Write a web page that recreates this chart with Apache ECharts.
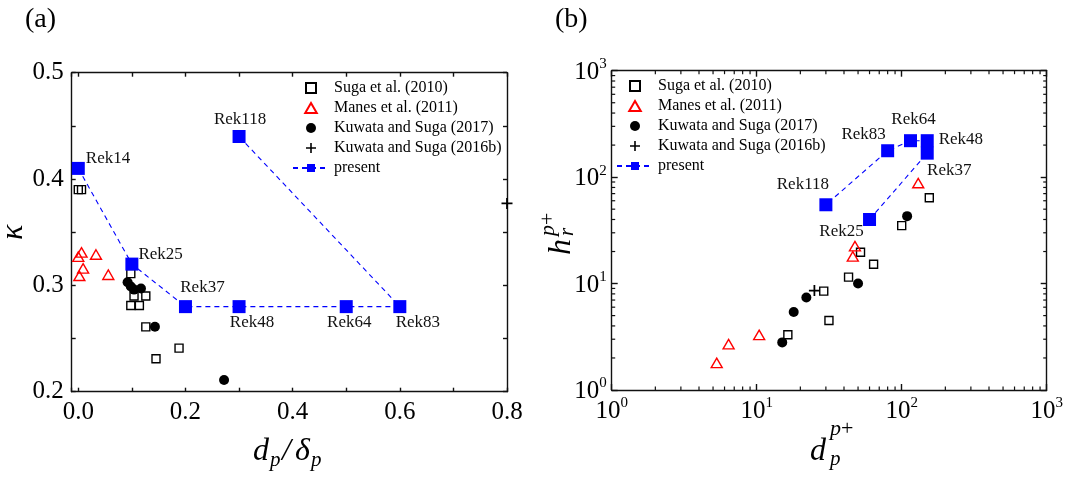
<!DOCTYPE html>
<html><head><meta charset="utf-8">
<script src="https://cdn.jsdelivr.net/npm/echarts@6/dist/echarts.min.js"></script>
<style>html,body{margin:0;padding:0;background:#fff}#c{width:1070px;height:478px}</style>
</head><body><div id="c"></div>
<script>
// ---------- Panel (a): kappa vs d_p/delta_p ----------
const sugaRatioA  = [0.0, 0.006, 0.098, 0.104, 0.126, 0.098, 0.114, 0.126, 0.145, 0.188];
const sugaKappaA  = [0.39, 0.39, 0.311, 0.29, 0.29, 0.281, 0.281, 0.261, 0.231, 0.241];
const manesRatioA = [0.006, 0.0, 0.033, 0.009, 0.002, 0.056];
const manesKappaA = [0.331, 0.327, 0.329, 0.316, 0.309, 0.310];
const kuw17RatioA = [0.092, 0.098, 0.104, 0.117, 0.143, 0.272];
const kuw17KappaA = [0.303, 0.299, 0.296, 0.297, 0.261, 0.211];
const kuw16RatioA = [0.8];
const kuw16KappaA = [0.377];
const presentNamesA = ['Rek14', 'Rek25', 'Rek37', 'Rek48', 'Rek64', 'Rek83', 'Rek118'];
const presentRatioA = [0.0, 0.1, 0.2, 0.3, 0.5, 0.6, 0.3];
const presentKappaA = [0.41, 0.32, 0.28, 0.28, 0.28, 0.28, 0.44];

// ---------- Panel (b): h_r^{p+} vs d_p^{p+} ----------
const sugaDpB  = [155, 100, 52, 64, 43, 29, 31.5, 16.4];
const sugaHrB  = [64, 35, 19.7, 15.2, 11.5, 8.5, 4.5, 3.3];
const manesDpB = [130, 47.6, 46, 10.4, 6.4, 5.3];
const manesHrB = [88, 22.5, 18, 3.3, 2.7, 1.8];
const kuw17DpB = [109, 50, 22, 18, 15];
const kuw17HrB = [43, 10, 7.4, 5.4, 2.8];
const kuw16DpB = [25];
const kuw16HrB = [8.6];
const presentNamesB = ['Rek25', 'Rek37', 'Rek48', 'Rek64', 'Rek83', 'Rek118'];
const presentDpB = [60, 150, 150, 115, 80, 30];
const presentHrB = [40, 168, 220, 220, 177, 55];

// axis ticks
const logMinorTicks = [2,3,4,5,6,7,8,9,20,30,40,50,60,70,80,90,200,300,400,500,600,700,800,900];
const legendNames = ['Suga et al. (2010)', 'Manes et al. (2011)', 'Kuwata and Suga (2017)', 'Kuwata and Suga (2016b)', 'present'];

// ---------- styling ----------
const SERIF = '"Liberation Serif", "Times New Roman", serif';
const BLUE = '#0000ff', RED = '#ff0000', INK = '#000';
const lineSt = {color: '#111', width: 1.4};
const PLUS = 'path://M4.2,0h1.6v4.2h4.2v1.6h-4.2v4.2h-1.6v-4.2h-4.2v-1.6h4.2z';
const SQUARE = 'path://M0,0H10V10H0Z';
const TRIANGLE = 'path://M5,0L10,8.66L0,8.66Z';

const labelPlaceA = {
  Rek14: {position: 'right', offset: [-4, -10]},
  Rek25: {position: 'right', offset: [-5, -10]},
  Rek37: {position: 'top', offset: [17, 1]},
  Rek48: {position: 'bottom', offset: [13, -4]},
  Rek64: {position: 'bottom', offset: [3, -4]},
  Rek83: {position: 'bottom', offset: [18, -4]},
  Rek118: {position: 'top', offset: [1, 3]}
};
const labelPlaceB = {
  Rek25: {position: 'bottom', offset: [-28, -8]},
  Rek37: {position: 'bottom', offset: [22, -3]},
  Rek48: {position: 'right', offset: [0, -1]},
  Rek64: {position: 'top', offset: [3, -1]},
  Rek83: {position: 'top', offset: [-24, 4]},
  Rek118: {position: 'top', offset: [-23, 0]}
};

function zip(xs, ys) { return xs.map((x, i) => [x, ys[i]]); }
function presentData(names, xs, ys, place) {
  return names.map((n, i) => ({name: n, value: [xs[i], ys[i]], label: place[n]}));
}

function makeSeries(g, suga, manes, k17, k16, present) {
  const ax = {xAxisIndex: g * 2, yAxisIndex: g * 2};
  return [
    Object.assign({type: 'scatter', name: legendNames[0], data: suga, symbol: SQUARE, symbolSize: 8,
      itemStyle: {color: 'rgba(0,0,0,0)', borderColor: INK, borderWidth: 1.4, opacity: 1}}, ax),
    Object.assign({type: 'scatter', name: legendNames[1], data: manes, symbol: TRIANGLE, symbolSize: 11,
      symbolKeepAspect: true,
      itemStyle: {color: 'rgba(0,0,0,0)', borderColor: RED, borderWidth: 1.4, opacity: 1}}, ax),
    Object.assign({type: 'scatter', name: legendNames[2], data: k17, symbol: 'circle', symbolSize: 10,
      itemStyle: {color: INK, opacity: 1}}, ax),
    Object.assign({type: 'scatter', name: legendNames[3], data: k16, symbol: PLUS, symbolSize: 11, clip: false,
      itemStyle: {color: INK, opacity: 1}}, ax),
    Object.assign({type: 'line', name: legendNames[4], data: present, symbol: 'rect', symbolSize: 13,
      showAllSymbol: true, clip: false,
      itemStyle: {color: BLUE, opacity: 1}, lineStyle: {color: BLUE, width: 1.1, type: [5, 4]},
      label: {show: true, formatter: '{b}', color: '#111', fontFamily: SERIF, fontSize: 17, distance: 5},
      emphasis: {disabled: true}}, ax)
  ];
}

function linX(grid, pos, show) {
  return {gridIndex: grid, type: 'value', position: pos, min: -0.0123, max: 0.8,
    axisLine: {show: true, onZero: false, lineStyle: lineSt},
    axisTick: {show: true, inside: true, length: 4, lineStyle: lineSt},
    minorTick: {show: true, splitNumber: 2, length: 4, lineStyle: lineSt},
    splitLine: {show: false},
    axisLabel: {show: show, showMinLabel: false, fontFamily: SERIF, fontSize: 25, color: INK, margin: 8,
      formatter: v => v.toFixed(1)}};
}
function linY(grid, pos, show) {
  return {gridIndex: grid, type: 'value', position: pos, min: 0.2, max: 0.5, interval: 0.1,
    axisLine: {show: true, onZero: false, lineStyle: lineSt},
    axisTick: {show: true, inside: true, length: 4, lineStyle: lineSt},
    minorTick: {show: true, splitNumber: 2, length: 4, lineStyle: lineSt},
    splitLine: {show: false},
    axisLabel: {show: show, fontFamily: SERIF, fontSize: 25, color: INK, margin: 8,
      formatter: v => v.toFixed(1)}};
}
const powRich = {
  b: {fontFamily: SERIF, fontSize: 25, lineHeight: 28, color: INK, verticalAlign: 'bottom'},
  s: {fontFamily: SERIF, fontSize: 15, lineHeight: 15, color: INK, verticalAlign: 'top'}
};
function logAxis(grid, pos, show, isY) {
  return {gridIndex: grid, type: 'log', logBase: 10, position: pos, min: 1, max: 1000,
    axisLine: {show: true, onZero: false, lineStyle: lineSt},
    axisTick: {show: true, inside: true, length: 6, lineStyle: lineSt},
    minorTick: {show: false}, splitLine: {show: false}, minorSplitLine: {show: false},
    axisLabel: {show: show, margin: isY ? 5 : 6, rich: powRich,
      formatter: v => '{b|10}{s|' + Math.round(Math.log10(v)) + '}'}};
}

const minorTickSeries = {
  type: 'custom', xAxisIndex: 2, yAxisIndex: 2, silent: true, clip: false, z: 5,
  data: logMinorTicks.map(v => [v, 1]),
  renderItem: function (params, api) {
    const v = api.value(0);
    const b = api.coord([v, 1]), t = api.coord([v, 1000]);
    const l = api.coord([1, v]), r = api.coord([1000, v]);
    const L = 3.5, st = {stroke: '#111', lineWidth: 1.2};
    return {type: 'group', children: [
      {type: 'line', shape: {x1: b[0], y1: b[1], x2: b[0], y2: b[1] - L}, style: st},
      {type: 'line', shape: {x1: t[0], y1: t[1], x2: t[0], y2: t[1] + L}, style: st},
      {type: 'line', shape: {x1: l[0], y1: l[1], x2: l[0] + L, y2: l[1]}, style: st},
      {type: 'line', shape: {x1: r[0], y1: r[1], x2: r[0] - L, y2: r[1]}, style: st}
    ]};
  }
};

function legendAt(left, top) {
  return {orient: 'vertical', left: left, top: top, padding: 0, itemWidth: 36, itemHeight: 10, itemGap: 4,
    selectedMode: false, data: legendNames,
    textStyle: {fontFamily: SERIF, fontSize: 16, lineHeight: 16, color: INK}};
}

// text placed by its baseline: y is the baseline, size is the font size
function txt(x, y, text, size, italic, extra) {
  const font = (italic ? 'italic ' : '') + size + 'px ' + SERIF;
  return Object.assign({type: 'text', x: x, y: y - 0.34 * size, silent: true,
    style: {text: text, font: font, fill: INK, align: 'left', verticalAlign: 'middle',
      textAlign: 'left', textVerticalAlign: 'middle'}}, extra || {});
}

const graphics = [
  txt(25, 29, '(a)', 28, false),
  txt(555, 29, '(b)', 28, false),
  // kappa (rotated, reads bottom-to-top)
  {type: 'group', x: 24, y: 240, rotation: Math.PI / 2, silent: true, children: [
    txt(0, 0, 'κ', 32, true)
  ]},
  // d_p / delta_p
  txt(253, 462, 'd', 32, true),
  txt(270, 468, 'p', 21, true),
  txt(282, 462, '/', 32, true),
  txt(295, 462, 'δ', 32, true),
  txt(311, 468, 'p', 21, true),
  // d_p^{p+}
  txt(810, 462, 'd', 32, true),
  txt(830, 437, 'p', 22, true),
  txt(841, 437, '+', 22, false),
  txt(830, 467, 'p', 21, true),
  // h_r^{p+} rotated
  {type: 'group', x: 572, y: 236, rotation: Math.PI / 2, silent: true, children: [
    txt(-19, 0, 'h', 32, true),
    txt(0, 3, 'r', 21, true),
    txt(0, -16, 'p', 22, true),
    txt(11, -16, '+', 22, false)
  ]}
];

const option = {
  animation: false,
  backgroundColor: '#fff',
  grid: [
    {left: 71.7, top: 72.7, width: 435.3, height: 319, containLabel: false},
    {left: 611.7, top: 70.7, width: 435, height: 319.3, containLabel: false}
  ],
  xAxis: [linX(0, 'bottom', true), linX(0, 'top', false), logAxis(1, 'bottom', true, false), logAxis(1, 'top', false, false)],
  yAxis: [linY(0, 'left', true), linY(0, 'right', false), logAxis(1, 'left', true, true), logAxis(1, 'right', false, true)],
  legend: [legendAt(292, 80), legendAt(616, 78)],
  graphic: graphics,
  series: [].concat(
    makeSeries(0, zip(sugaRatioA, sugaKappaA), zip(manesRatioA, manesKappaA), zip(kuw17RatioA, kuw17KappaA),
      zip(kuw16RatioA, kuw16KappaA), presentData(presentNamesA, presentRatioA, presentKappaA, labelPlaceA)),
    makeSeries(1, zip(sugaDpB, sugaHrB), zip(manesDpB, manesHrB), zip(kuw17DpB, kuw17HrB),
      zip(kuw16DpB, kuw16HrB), presentData(presentNamesB, presentDpB, presentHrB, labelPlaceB)),
    [minorTickSeries]
  )
};
const chart = echarts.init(document.getElementById('c'), null, {renderer: 'canvas'});
chart.setOption(option);
</script></body></html>
